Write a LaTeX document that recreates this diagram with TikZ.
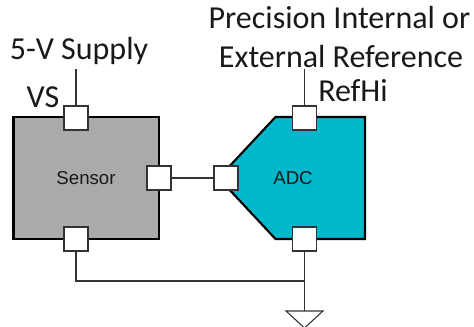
\documentclass[tikz,border=0pt]{standalone}
\usepackage{fontspec}
\setmainfont{Carlito}
\newfontfamily\blockfont{Liberation Sans}
\usetikzlibrary{positioning}
\tikzset{
  pinbox/.style={draw=black!80, fill=white, minimum size=18pt, inner sep=0pt, line width=0.8pt},
  blockedge/.style={draw=black, line width=1.6pt, line join=miter},
  wire/.style={draw=black!80, line width=0.8pt},
  biglabel/.style={font=\fontsize{24}{26}\selectfont, inner sep=0pt, anchor=base, text=black!90},
  blocklabel/.style={font=\blockfont\fontsize{14}{16}\selectfont, inner sep=0pt, text=black!90}
}
\definecolor{sensorgray}{RGB}{170,170,170}
\definecolor{adcteal}{RGB}{0,184,204}

\begin{document}
\begin{tikzpicture}[x=0.75pt,y=-0.75pt]
\useasboundingbox (0,0) rectangle (474,327);
% blocks
\draw[blockedge, fill=sensorgray] (13.5,117) rectangle (159,239);
\draw[blockedge, fill=adcteal] (365,117) -- (275.5,117) -- (226,170) -- (226,186) -- (275.5,239) -- (365,239) -- cycle;
\node[blocklabel] (sensor) at (86,178) {Sensor};
\node[blocklabel] (adc) at (293,178) {ADC};
% pins
\node[pinbox] (vs) at (76,118) {};
\node[pinbox] (sensorout) at (159,178) {};
\node[pinbox] (sensorgnd) at (76,239) {};
\node[pinbox] (adcin) at (226,178) {};
\node[pinbox] (refhi) at (304.5,118) {};
\node[pinbox] (adcgnd) at (304.5,239) {};
% labels
\node[biglabel] (supply) at (79,60) {5-V Supply};
\node[biglabel] (vslabel) at (43,108) {VS};
\node[biglabel] (precision) at (339.5,29) {Precision Internal or};
\node[biglabel] (external) at (341,68) {External Reference};
\node[biglabel] (refhilabel) at (353,102) {RefHi};
% wires
\coordinate (supplyend) at (76,69);
\coordinate (refend) at (304.5,69);
\coordinate (gndjoin) at (304.5,281);
\coordinate (gndtop) at (304.5,311);
\draw[wire] (supplyend) -- (vs);
\draw[wire] (refend) -- (refhi);
\draw[wire] (sensorout) -- (adcin);
\draw[wire] (sensorgnd) |- (gndjoin);
\draw[wire] (adcgnd) -- (gndtop);
% ground
\draw[wire] (286,311) -- (323,311) -- (304.5,328) -- cycle;
\end{tikzpicture}
\end{document}
